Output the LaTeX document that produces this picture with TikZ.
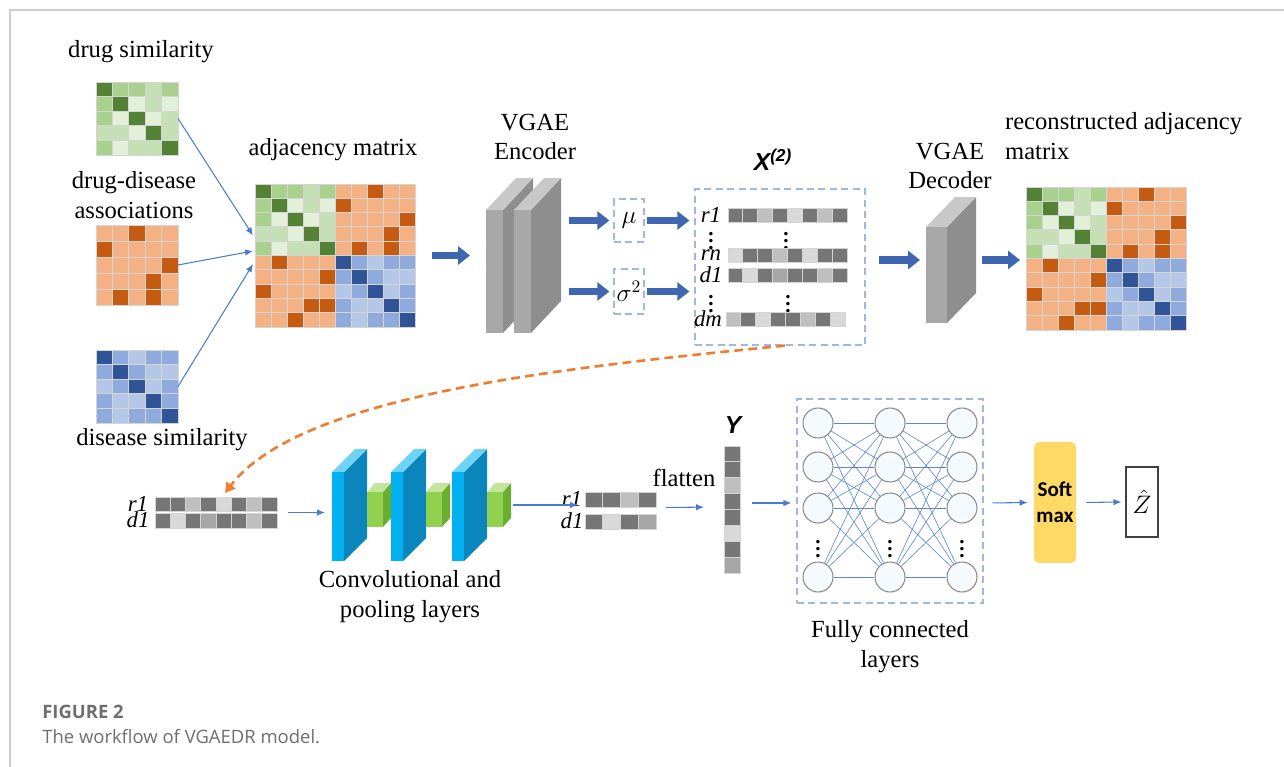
\documentclass[tikz,border=0pt]{standalone}
\usepackage{fontspec}
\setmainfont{Liberation Serif}
\setsansfont{Liberation Sans}
\newfontfamily\capfont{Open Sans}
\newfontfamily\boxfont{Carlito}
\usetikzlibrary{arrows.meta,positioning,calc}

% matrix shades
\definecolor{g1}{HTML}{548235}
\definecolor{g2}{HTML}{A9D18E}
\definecolor{g3}{HTML}{C5E0B4}
\definecolor{g4}{HTML}{E2F0D9}
\definecolor{o1}{HTML}{C55A11}
\definecolor{o2}{HTML}{F4B183}
\definecolor{b1}{HTML}{2F5597}
\definecolor{b2}{HTML}{8FAADC}
\definecolor{b3}{HTML}{B4C7E7}
\definecolor{k1}{HTML}{767676}
\definecolor{k2}{HTML}{A6A6A6}
\definecolor{k3}{HTML}{BFBFBF}
\definecolor{k4}{HTML}{D9D9D9}
\definecolor{gridgray}{HTML}{D4D4D4}
% arrows and boxes
\definecolor{fatblue}{HTML}{3F67B0}
\definecolor{feedblue}{HTML}{4A7BD0}
\definecolor{linkblue}{HTML}{5B86D8}
\definecolor{dashblue}{HTML}{9DB8E2}
\definecolor{flow}{HTML}{ED7D31}
\definecolor{encfront}{HTML}{A8A8A8}
\definecolor{encside}{HTML}{8E8E8E}
\definecolor{enctop}{HTML}{C8C8C8}
\definecolor{cyanfront}{HTML}{00B0F0}
\definecolor{cyanside}{HTML}{0A86BD}
\definecolor{cyantop}{HTML}{6FD3F7}
\definecolor{grnfront}{HTML}{92D050}
\definecolor{grnside}{HTML}{6AAE2F}
\definecolor{grntop}{HTML}{C2E59B}
\definecolor{neuronfill}{HTML}{F4FAFD}
\definecolor{ringgray}{HTML}{8A8A8A}
\definecolor{softfill}{HTML}{FFD966}
\definecolor{capgray}{HTML}{6E6E6E}
\definecolor{framegray}{HTML}{CFCFCF}

% cell patterns, one braced group per row
\def\drugsim{{g1,g2,g2,g3,g2},{g2,g1,g4,g3,g4},{g2,g4,g1,g4,g3},{g3,g3,g4,g1,g3},{g2,g4,g3,g3,g1}}
\def\assoc{{o2,o2,o1,o2,o2},{o1,o2,o2,o2,o2},{o2,o2,o2,o2,o1},{o2,o2,o2,o1,o2},{o2,o1,o2,o1,o2}}
\def\dissim{{b1,b2,b3,b2,b2},{b2,b1,b2,b3,b3},{b3,b2,b1,b3,b2},{b2,b3,b3,b1,b2},{b2,b3,b2,b2,b1}}
\def\adjrows{%
  {g1,g2,g2,g3,g2,o2,o2,o1,o2,o2},{g2,g1,g4,g3,g4,o1,o2,o2,o2,o2},
  {g2,g4,g1,g4,g3,o2,o2,o2,o2,o1},{g3,g3,g4,g1,g3,o2,o2,o2,o1,o2},
  {g2,g4,g3,g3,g1,o2,o1,o2,o1,o2},{o2,o1,o2,o2,o2,b1,b2,b3,b2,b2},
  {o2,o2,o2,o2,o1,b2,b1,b2,b3,b3},{o1,o2,o2,o2,o2,b3,b2,b1,b3,b2},
  {o2,o2,o2,o1,o1,b2,b3,b3,b1,b2},{o2,o2,o1,o2,o2,b2,b3,b2,b2,b1}}
\def\vrone{{k1,k1,k3,k1,k4,k1,k3,k1}}
\def\vrn{{k4,k1,k1,k3,k1,k4,k1,k1}}
\def\vdone{{k1,k4,k1,k2,k1,k1,k3,k1}}
\def\vdm{{k3,k1,k4,k1,k1,k3,k1,k4}}
\def\prone{{k1,k1,k3,k1}}
\def\pdone{{k1,k4,k1,k2}}
\def\ycells{{k1},{k1},{k3},{k1},{k1},{k4},{k1},{k2}}

% x, y of top left corner, cell width, cell height, rows
\newcommand{\cellgrid}[5]{%
  \foreach \rw [count=\j from 0] in #5 {
    \foreach \c [count=\i from 0] in \rw {
      \filldraw[cell, fill=\c] ({#1+\i*#3},{#2+\j*#4}) rectangle ++(#3,#4);
    }
  }}

% box seen from the front left: x, y top, width, height, depth x, depth y,
% front, side and top colours
\newcommand{\slab}[9]{%
  \fill[#8] ({#1+#3},#2) -- ++(#5,-#6) -- ++(0,#4) -- ++(-#5,#6) -- cycle;
  \fill[#9] (#1,#2) -- ++(#5,-#6) -- ++(#3,0) -- ++(-#5,#6) -- cycle;
  \fill[#7] (#1,#2) rectangle ++(#3,#4);}

\begin{document}
\begin{tikzpicture}[
  x=0.02cm, y=-0.02cm,
  font=\fontsize{14}{17}\selectfont,
  lbl/.style={align=center, inner sep=1pt},
  rowlbl/.style={font=\fontsize{13}{13}\selectfont\itshape, inner sep=0pt},
  dots/.style={font=\fontsize{12}{12}\selectfont\bfseries, inner sep=0pt},
  hold/.style={inner sep=0pt, outer sep=0pt},
  cell/.style={draw=gridgray, line width=0.5pt},
  dbox/.style={draw=dashblue, dash pattern=on 4pt off 2.5pt, line width=0.7pt, inner sep=0pt},
  fat/.style={-{Triangle[length=2.4mm,width=3.6mm]}, line width=4pt, draw=fatblue},
  feed/.style={-{Latex[length=1.6mm,width=1.3mm]}, line width=0.6pt, draw=feedblue},
  link/.style={draw=linkblue, line width=0.35pt},
  neuron/.style={circle, draw=ringgray, fill=neuronfill, line width=0.6pt,
                 minimum size=0.6cm, inner sep=0pt},
]
\useasboundingbox (0,0) rectangle (1284,767);
\draw[framegray, line width=0.6pt] (10,767) -- (10,10) -- (1284,10);

% ---- the three input matrices ------------------------------------------------
\node[lbl] (t-dsim) at (141,52) {drug similarity};
\node[hold, minimum width=1.64cm, minimum height=1.46cm] (dsim) at (137,118.5) {};
\cellgrid{96}{82}{16.4}{14.6}{\drugsim}

\node[lbl] (t-assoc) at (134,195) {drug-disease\\associations};
\node[hold, minimum width=1.64cm, minimum height=1.6cm] (assoc) at (137,265) {};
\cellgrid{96}{225}{16.4}{16}{\assoc}

\node[hold, minimum width=1.64cm, minimum height=1.46cm] (dis) at (137,386.5) {};
\cellgrid{96}{350}{16.4}{14.6}{\dissim}
\node[lbl] (t-dis) at (162,440) {disease similarity};

% ---- adjacency matrix --------------------------------------------------------
\node[lbl] (t-adj) at (333,150) {adjacency matrix};
\node[hold, minimum width=3.2cm, minimum height=2.86cm] (adj) at (335,255.5) {};
\cellgrid{255}{184}{16}{14.3}{\adjrows}
\draw[feed] (dsim.east) -- ($(adj.west)+(-2,-20)$);
\draw[feed] (assoc.east) -- ($(adj.west)+(-2,-4.5)$);
\draw[feed] (dis.east) -- ($(adj.west)+(-2,8.5)$);

% ---- VGAE encoder ------------------------------------------------------------
\node[lbl] (t-enc) at (535,137) {VGAE\\Encoder};
\slab{486}{210}{17}{123}{30}{32}{encfront}{encside}{enctop}
\slab{514}{210}{17}{123}{30}{32}{encfront}{encside}{enctop}
\node[hold, minimum width=1.52cm, minimum height=3.1cm] (enc) at (524,255.5) {};
\draw[fat, shorten <=0.34cm, shorten >=0.32cm] (adj.east) -- (enc.west |- adj.east);

\node[dbox, minimum width=0.6cm, minimum height=0.86cm] (mu) at (629,220.5) {$\mu$};
\node[dbox, minimum width=0.6cm, minimum height=0.9cm] (sig) at (629,291.5) {$\sigma^2$};
\draw[fat, shorten <=0.14cm, shorten >=0.08cm] (enc.east |- mu.west) -- (mu.west);
\draw[fat, shorten <=0.14cm, shorten >=0.08cm] (enc.east |- sig.west) -- (sig.west);

% ---- latent rows X(2) --------------------------------------------------------
\node (t-x) at (773,160) {\sffamily\bfseries\itshape X\textsuperscript{(2)}};
\node[dbox, minimum width=3.4cm, minimum height=3.12cm] (xbox) at (780,267) {};
\draw[fat, shorten <=0.04cm, shorten >=0.1cm] (mu.east) -- (xbox.west |- mu.east);
\draw[fat, shorten <=0.04cm, shorten >=0.1cm] (sig.east) -- (xbox.west |- sig.east);

\node[rowlbl] (x-r1) at (711,215) {r1};
\node[dots] (x-dot1) at (711,236) {$\vdots$};
\node[rowlbl] (x-rn) at (711,255) {rn};
\node[rowlbl] (x-d1) at (711,275) {d1};
\node[dots] (x-dot2) at (711,299) {$\vdots$};
\node[rowlbl] (x-dm) at (708,319) {dm};
\node[dots] (x-dot3) at (786,236) {$\vdots$};
\node[dots] (x-dot4) at (788,299) {$\vdots$};
\cellgrid{728}{208}{14.9}{14}{\vrone}
\cellgrid{728}{248}{14.9}{14}{\vrn}
\cellgrid{728}{268}{14.9}{14}{\vdone}
\cellgrid{726}{312}{14.9}{14}{\vdm}

% ---- VGAE decoder ------------------------------------------------------------
\node[lbl] (t-dec) at (950,166) {VGAE\\Decoder};
\slab{926}{227}{21}{96}{29}{30}{encfront}{encside}{enctop}
\node[hold, minimum width=0.98cm, minimum height=2.52cm] (dec) at (950.5,260) {};
\draw[fat, shorten <=0.26cm, shorten >=0.12cm] (xbox.east |- dec.west) -- (dec.west);

\node[lbl, anchor=west, align=left] (t-rec) at (1003,136) {reconstructed adjacency\\matrix};
\node[hold, minimum width=3.2cm, minimum height=2.86cm] (rec) at (1106,258.5) {};
\cellgrid{1026}{187}{16}{14.3}{\adjrows}
\draw[fat, shorten <=0.14cm, shorten >=0.12cm] (dec.east) -- (rec.west |- dec.east);

% ---- CNN branch --------------------------------------------------------------
\node[rowlbl] (c-r1) at (138,504) {r1};
\node[rowlbl] (c-d1) at (138,520) {d1};
\cellgrid{155}{497}{15.25}{14}{\vrone}
\cellgrid{155}{513}{15.25}{15}{\vdone}
\node[hold, minimum width=2.44cm, minimum height=0.62cm] (vin) at (216,512.5) {};
\draw[flow, line width=1.5pt, dash pattern=on 5pt off 3pt,
      -{Triangle[length=2mm,width=2.2mm]}]
  ($(xbox.south)+(5,0)$) .. controls (560,368) and (300,395) .. ($(vin.north)+(9,-4)$);

\foreach \px in {332,391,452} {
  \slab{\px}{472}{12}{89}{23}{23}{cyanfront}{cyanside}{cyantop}
  \slab{\px+35}{492}{16}{35}{8}{9}{grnfront}{grnside}{grntop}
}
\node[hold, minimum width=3.58cm, minimum height=2.24cm] (conv) at (421.5,505) {};
\node[lbl] (t-conv) at (410,597) {Convolutional and\\pooling layers};
\draw[feed, shorten <=0.22cm, shorten >=0.14cm] (vin.east) -- (conv.west |- vin.east);

\node[rowlbl] (p-r1) at (572,499) {r1};
\node[rowlbl] (p-d1) at (572,521) {d1};
\cellgrid{585}{492}{17.75}{15}{\prone}
\cellgrid{585}{514}{17.75}{15}{\pdone}
\node[hold, minimum width=1.42cm, minimum height=0.74cm] (vpool) at (620.5,510.5) {};
\draw[feed, shorten <=0.04cm, shorten >=0.14cm] (conv.east) -- (vpool.west |- conv.east);

\node[lbl] (t-flat) at (684,478) {flatten};
\node (t-y) at (733,425) {\sffamily\bfseries\itshape Y};
\cellgrid{724}{446}{16}{15.9}{\ycells}
\node[hold, minimum width=0.32cm, minimum height=2.54cm] (ycol) at (732,509.5) {};
\draw[feed, shorten <=0.2cm, shorten >=0.4cm] ($(vpool.east)+(0,-3)$) -- ($(ycol.west)+(0,-2.5)$);

% ---- fully connected layers --------------------------------------------------
\node[dbox, minimum width=3.72cm, minimum height=4.08cm] (fc) at (890,501) {};
\foreach \cx [count=\ci] in {818,890,962}
  \foreach \ry [count=\ri] in {423,467,508,577}
    \node[neuron] (n\ci-\ri) at (\cx,\ry) {};
\foreach \a in {1,...,4}
  \foreach \b in {1,...,4} {
    \draw[link] (n1-\a) -- (n2-\b);
    \draw[link] (n2-\a) -- (n3-\b);
  }
\node[dots] (fc-dot1) at (818,544) {$\vdots$};
\node[dots] (fc-dot2) at (890,544) {$\vdots$};
\node[dots] (fc-dot3) at (962,544) {$\vdots$};
\node[lbl] (t-fc) at (890,647) {Fully connected\\layers};
\draw[feed, shorten <=0.24cm, shorten >=0.1cm] ($(ycol.east)+(0,-6.5)$) -- ($(fc.west)+(0,2)$);

\node[fill=softfill, rounded corners=3pt, minimum width=0.84cm, minimum height=2.42cm,
      align=center, inner sep=0pt, font=\boxfont\bfseries\fontsize{12}{15}\selectfont]
  (soft) at (1055,502.5) {Soft\\max};
\draw[feed, shorten <=0.18cm, shorten >=0.12cm] ($(fc.east)+(0,2)$) -- (soft.west);

\node[draw=black!75, line width=0.6pt, minimum width=0.64cm, minimum height=1.4cm, inner sep=0pt]
  (zhat) at (1142,502) {\fontsize{15}{15}\selectfont$\hat{Z}$};
\draw[feed, shorten <=0.2cm, shorten >=0.08cm] (soft.east) -- (zhat.west);

% ---- caption -----------------------------------------------------------------
\node[anchor=west, inner sep=0pt, text=capgray, font=\capfont\bfseries\fontsize{10.5}{12}\selectfont]
  (fig) at (42,712) {FIGURE 2};
\node[anchor=west, inner sep=0pt, text=capgray, font=\capfont\fontsize{10.5}{12}\selectfont]
  (cap) at (42,737) {The workflow of VGAEDR model.};

\end{tikzpicture}
\end{document}
